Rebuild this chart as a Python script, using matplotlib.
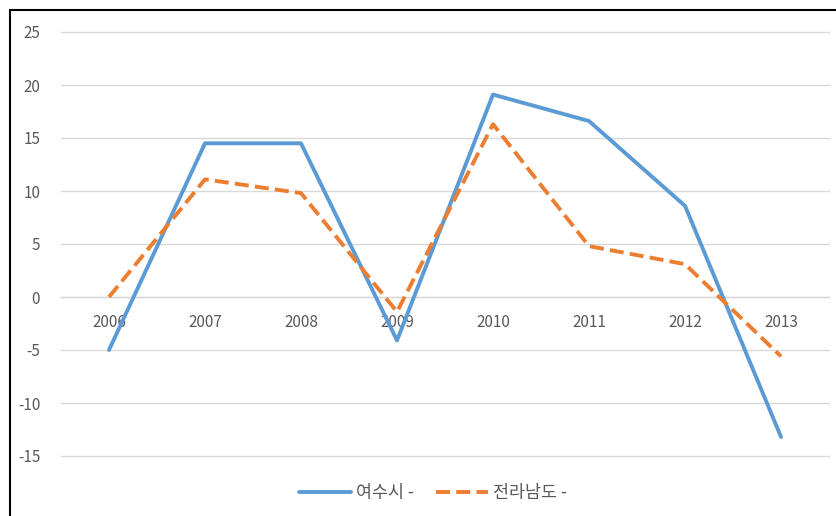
import matplotlib
matplotlib.use("Agg")
import matplotlib.pyplot as plt
from matplotlib.patches import Rectangle

plt.rcParams['font.family'] = ['Noto Sans CJK KR', 'DejaVu Sans']

years = ['2006', '2007', '2008', '2009', '2010', '2011', '2012', '2013']
yeosu = [-5.0, 14.5, 14.5, -4.1, 19.1, 16.6, 8.6, -13.2]
jeonnam = [0.0, 11.1, 9.8, -1.4, 16.3, 4.8, 3.1, -5.6]
series_names = ['여수시 -', '전라남도 -']
yticks = [-15, -10, -5, 0, 5, 10, 15, 20, 25]

W, H = 837, 516
fig = plt.figure(figsize=(W / 100, H / 100), dpi=100)
fig.patch.set_facecolor('white')

# outer frame (cut at right/bottom)
fig.add_artist(Rectangle((10 / W, -0.05), 1.1, (H - 10) / H + 0.05,
                         transform=fig.transFigure, fill=False,
                         edgecolor='black', linewidth=1.5))

ax = fig.add_axes([61 / W, (H - 456) / H, (829 - 61) / W, (456 - 32) / H])
x = list(range(len(years)))
ax.plot(x, yeosu, color='#5b9bd5', lw=2.8, solid_capstyle='round',
        label=series_names[0], zorder=3)
ax.plot(x, jeonnam, color='#ed7d31', lw=2.8, dashes=(3.6, 1.6),
        label=series_names[1], zorder=3)

ax.set_xlim(-0.5, len(years) - 0.5)
ax.set_ylim(-15, 25)
ax.set_yticks(yticks)
ax.set_yticklabels([str(v) for v in yticks])
ax.grid(axis='y', color='#d9d9d9', lw=1)
for gl in ax.get_ygridlines():
    gl.set_clip_on(False)
ax.set_axisbelow(True)
for s in ['top', 'right', 'left']:
    ax.spines[s].set_visible(False)
ax.spines['bottom'].set_position(('data', 0))
ax.spines['bottom'].set_color('#d9d9d9')
ax.spines['bottom'].set_linewidth(1)
ax.set_xticks(x)
ax.set_xticklabels(years)
ax.tick_params(axis='x', length=0, pad=12, labelsize=11, labelcolor='#595959')
ax.tick_params(axis='y', length=0, pad=15, labelsize=11, labelcolor='#595959')

leg = fig.legend(loc='center', bbox_to_anchor=(433 / W, 1 - 493 / H), ncol=2,
                 frameon=False, fontsize=12.5, handlelength=3.0,
                 columnspacing=1.3, handletextpad=0.25)
for t in leg.get_texts():
    t.set_color('#595959')

fig.savefig('out.png', dpi=100)
